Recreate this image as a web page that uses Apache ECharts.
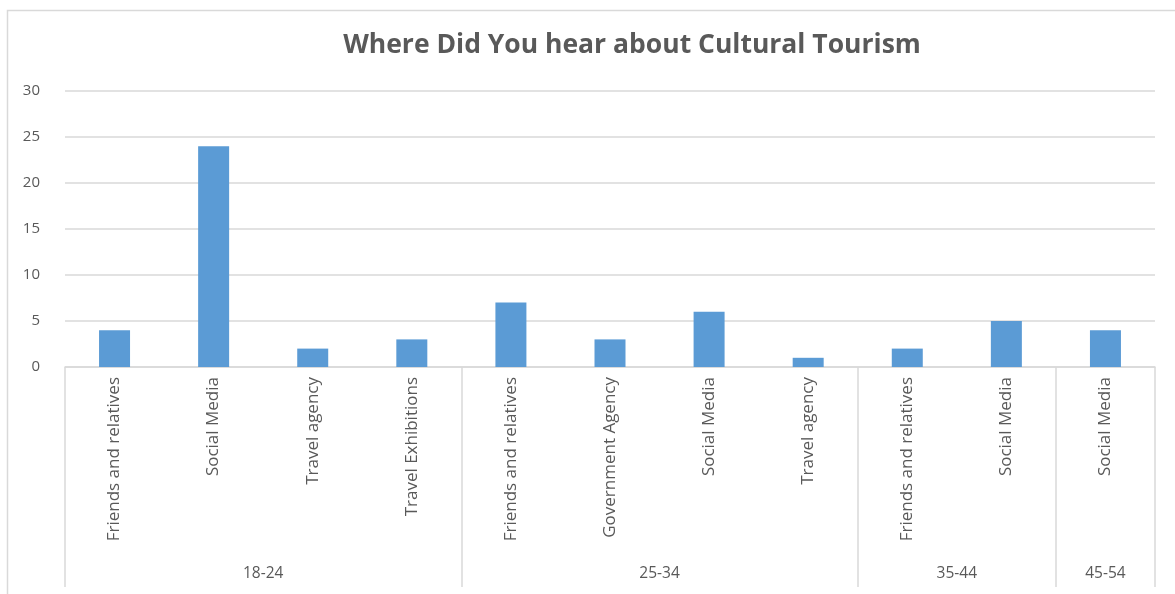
<!DOCTYPE html>
<html>
<head>
<meta charset="utf-8">
<script src="https://cdn.jsdelivr.net/npm/echarts@6/dist/echarts.min.js"></script>
<style>
html,body{margin:0;padding:0;background:#fff;}
#chart{width:1175px;height:594px;}
</style>
</head>
<body>
<div id="chart"></div>
<script>
const titleText = 'Where Did You hear about Cultural Tourism';
const categories = ['Friends and relatives','Social Media','Travel agency','Travel Exhibitions',
  'Friends and relatives','Government Agency','Social Media','Travel agency',
  'Friends and relatives','Social Media','Social Media'];
const values = [4, 24, 2, 3, 7, 3, 6, 1, 2, 5, 4];
const groups = ['18-24', '25-34', '35-44', '45-54'];
const groupSizes = [4, 4, 2, 1];
const yTicks = [0, 5, 10, 15, 20, 25, 30];

// group boundaries and centers (in category units)
const boundaries = [0];
const centers = [];
groupSizes.forEach(s => {
  const start = boundaries[boundaries.length - 1];
  centers.push(start + s / 2);
  boundaries.push(start + s);
});

const FONT = '"Open Sans", "Liberation Sans", sans-serif';
const chart = echarts.init(document.getElementById('chart'));
chart.setOption({
  animation: false,
  backgroundColor: '#fff',
  title: {
    text: titleText,
    left: 627, top: 27, textAlign: 'center',
    textStyle: {fontFamily: FONT, fontSize: 26.5, fontWeight: 'bold', color: '#595959'}
  },
  graphic: [{
    type: 'rect', silent: true,
    shape: {x: 7.5, y: 10.5, width: 1180, height: 600},
    style: {fill: 'none', stroke: '#d9d9d9', lineWidth: 1.5}
  }],
  grid: {left: 65, right: 20, top: 91, bottom: 227, containLabel: false},
  xAxis: [{
    type: 'category',
    data: categories,
    position: 'bottom',
    axisLine: {show: true, lineStyle: {color: '#d9d9d9', width: 1.5}},
    axisTick: {show: false},
    axisLabel: {
      interval: 0, rotate: 90, margin: 10,
      fontFamily: FONT, fontSize: 17, color: '#595959'
    }
  }, {
    type: 'value',
    min: 0, max: categories.length,
    position: 'bottom',
    offset: 220,
    axisLine: {show: false},
    splitLine: {show: false},
    axisTick: {
      show: true, inside: true, length: 220,
      customValues: boundaries,
      lineStyle: {color: '#d9d9d9', width: 1.5}
    },
    axisLabel: {
      show: true, inside: true, margin: 5,
      customValues: centers,
      formatter: v => { const i = centers.indexOf(v); return i >= 0 ? groups[i] : ''; },
      fontFamily: FONT, fontSize: 15.5, color: '#595959'
    }
  }],
  yAxis: {
    type: 'value',
    min: 0, max: 30, interval: 5,
    axisLine: {show: false},
    axisTick: {show: false},
    splitLine: {lineStyle: {color: '#d9d9d9', width: 1.5}},
    axisLabel: {
      margin: 25,
      formatter: v => yTicks.includes(v) ? String(v) : '',
      fontFamily: FONT, fontSize: 15, color: '#595959'
    }
  },
  series: [{
    type: 'bar',
    xAxisIndex: 0,
    data: values,
    barWidth: 31,
    itemStyle: {color: '#5b9bd5'}
  }]
});
</script>
</body>
</html>
